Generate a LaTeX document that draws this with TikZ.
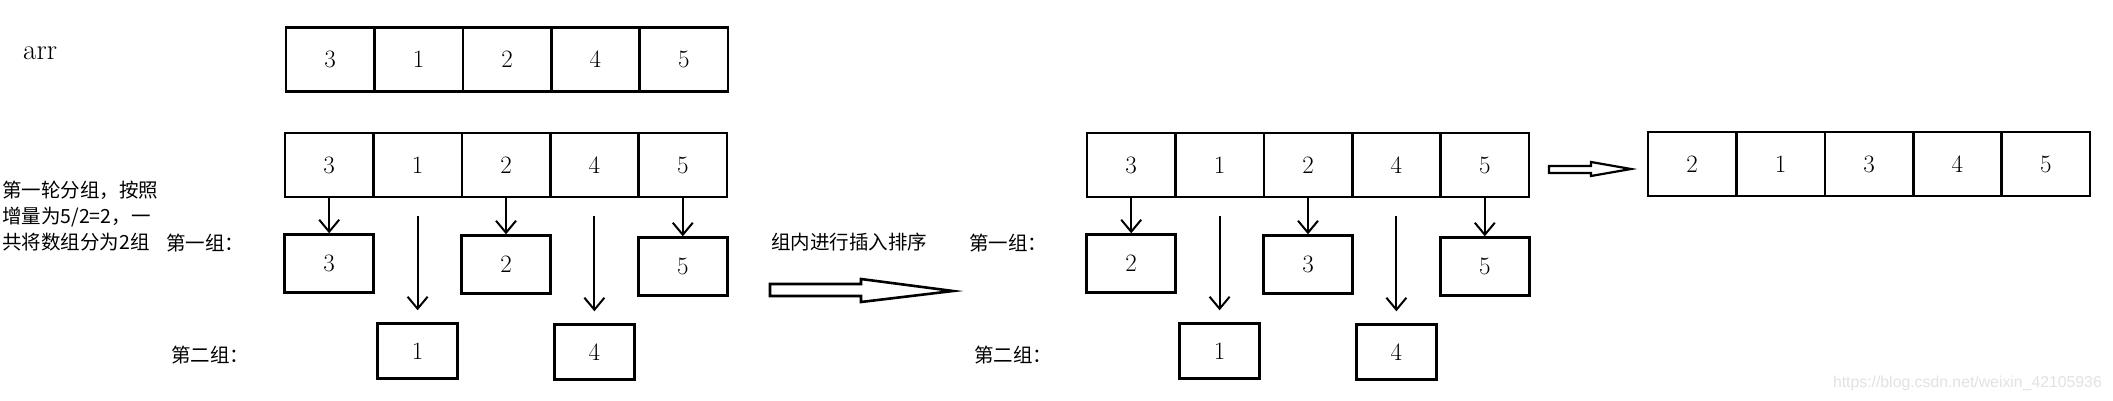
\documentclass[tikz,border=0pt]{standalone}
\usepackage{fontspec}
\usepackage{tikz}
\usetikzlibrary{arrows.meta, positioning}
\newfontfamily\cjk{Noto Sans CJK SC}
\newfontfamily\wmfont{Liberation Sans}
\definecolor{shMark}{HTML}{E2E2E2}
\tikzset{
  cell/.style={draw, line width=2.6pt, minimum width=88.4pt, minimum height=64pt,
    inner sep=0pt, font=\fontsize{25}{30}\selectfont},
  grpA/.style={cell, minimum width=89pt, minimum height=58pt},
  grpB/.style={cell, minimum width=80pt, minimum height=55pt},
  zh/.style={font=\cjk\fontsize{19.5}{26}\selectfont, inner sep=0pt, align=left},
  ptr/.style={-{Straight Barb[length=12pt, width=20pt]}, line width=2pt},
  fat/.style={draw, line width=2.6pt, line join=miter}
}
\begin{document}
\begin{tikzpicture}[x=1pt, y=1pt]
  \fill[white] (0,0) rectangle (2113,-401);
  \useasboundingbox (0,0) rectangle (2113,-401);

  % original array
  \node[font=\fontsize{29}{34}\selectfont, inner sep=0pt, anchor=base west] (arr) at (23,-60) {arr};
  \foreach \i/\v in {1/3,2/1,3/2,4/4,5/5}
    \node[cell] (a\i) at (241.8+88.4*\i, -59.5) {\v};

  % gap 5/2=2: split into two groups (left), sort inside each group (right)
  \foreach \s/\x/\p/\q in {l/240.8/3/2, r/1042.8/2/3} {
    \foreach \i/\v in {1/3,2/1,3/2,4/4,5/5}
      \node[cell] (\s\i) at (\x+88.4*\i, -165) {\v};
    \node[grpA, below=35pt of \s1] (\s g1) {\p};
    \node[grpA, below=36pt of \s3] (\s g3) {\q};
    \node[grpA, below=38pt of \s5] (\s g5) {5};
    \node[grpB, below=124pt of \s2] (\s g2) {1};
    \node[grpB, below=125pt of \s4] (\s g4) {4};
    \foreach \k in {1,3,5}
      \draw[ptr] (\s\k.south) -- (\s g\k.north);
    \foreach \k in {2,4}
      \draw[ptr] ([yshift=-18pt]\s\k.south) -- ([yshift=12pt]\s g\k.north);
  }

  \node[zh, anchor=west] (note) at (2,-216) {第一轮分组，按照\\增量为5/2=2，一\\共将数组分为2组};
  \node[zh, anchor=west] (lt1) at (166,-243) {第一组：};
  \node[zh, anchor=west] (lt2) at (171,-355) {第二组：};
  \node[zh, anchor=west] (rt1) at (969,-243) {第一组：};
  \node[zh, anchor=west] (rt2) at (974,-355) {第二组：};
  \node[zh, anchor=west] (sortnote) at (771,-242) {组内进行插入排序};

  % hollow arrows between the steps
  \draw[fat] (770,-284) -- (861,-284) -- (861,-279) -- (953,-291) -- (861,-302)
    -- (861,-296) -- (770,-296) -- cycle;
  \draw[fat, line width=2.2pt] (1549,-166) -- (1591,-166) -- (1591,-162) -- (1631,-169)
    -- (1591,-176) -- (1591,-173) -- (1549,-173) -- cycle;

  % array after the first round
  \foreach \i/\v in {1/2,2/1,3/3,4/4,5/5}
    \node[cell] (f\i) at (1603.8+88.4*\i, -164) {\v};

  \node[font=\wmfont\fontsize{15.8}{18}\selectfont, text=shMark, anchor=east, inner sep=0pt]
    (wm) at (2102,-383) {https://blog.csdn.net/weixin\_42105936};
\end{tikzpicture}
\end{document}
